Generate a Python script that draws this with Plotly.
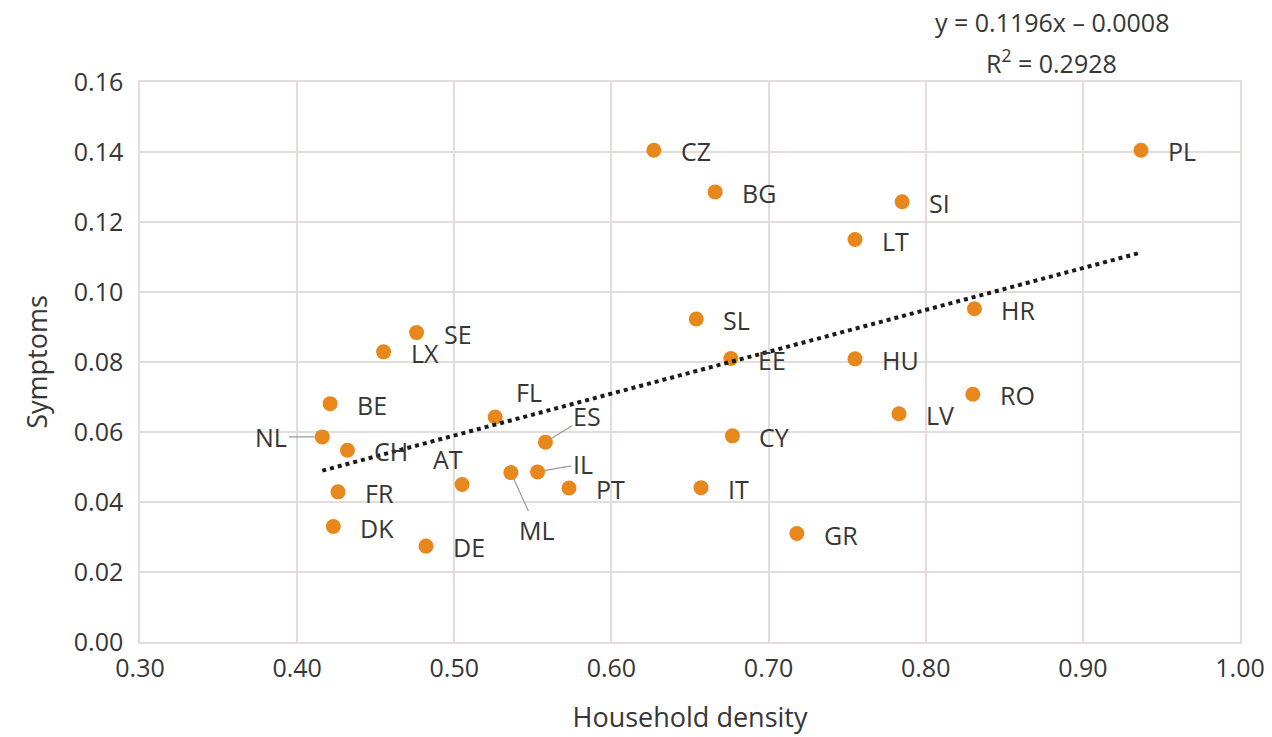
import plotly.graph_objects as go

# ---- data ----
countries = ["CZ", "BG", "SI", "LT", "PL", "HR", "SL", "EE", "HU", "RO", "LV", "CY", "IT", "GR",
             "SE", "LX", "BE", "NL", "CH", "FR", "DK", "DE", "AT", "FL", "ES", "ML", "IL", "PT"]
household_density = [0.627, 0.666, 0.785, 0.755, 0.937, 0.831, 0.654, 0.676, 0.755, 0.830, 0.783, 0.677, 0.657, 0.718,
                     0.476, 0.455, 0.421, 0.416, 0.432, 0.426, 0.423, 0.482, 0.505, 0.526, 0.558, 0.536, 0.553, 0.573]
symptoms = [0.1405, 0.1286, 0.1258, 0.1150, 0.1405, 0.0952, 0.0923, 0.0810, 0.0809, 0.0708, 0.0652, 0.0589, 0.0441, 0.0310,
            0.0884, 0.0829, 0.0681, 0.0586, 0.0548, 0.0429, 0.0330, 0.0274, 0.0450, 0.0643, 0.0571, 0.0484, 0.0486, 0.0440]

trend_slope = 0.1196
trend_intercept = -0.0008
r_squared = 0.2928

x_ticks = [0.30, 0.40, 0.50, 0.60, 0.70, 0.80, 0.90, 1.00]
y_ticks = [0.00, 0.02, 0.04, 0.06, 0.08, 0.10, 0.12, 0.14, 0.16]

# ---- styling ----
FONT = "Open Sans"
TEXT = "#363636"
GRID = "#e4dbdb"
ORANGE = "#e8871c"

# label placement (pixel offsets), default: text to the right of the dot
special = {
    # name: (mode, dx, dy)  dy positive = downward (screen)
    "NL": ("arrow", -51, 0),
    "ES": ("arrow", 42, -26),
    "IL": ("arrow", 45, -8),
    "ML": ("arrow", 26, 57),
    "AT": ("text", -14, -26),
    "FL": ("text", 34, -25),
}

fig = go.Figure()

fig.add_trace(go.Scatter(
    x=household_density, y=symptoms, mode="markers",
    marker=dict(size=15, color=ORANGE, line=dict(width=0)),
    hoverinfo="text", text=countries, showlegend=False,
))

x0, x1 = min(household_density), max(household_density)
fig.add_trace(go.Scatter(
    x=[x0, x1], y=[trend_slope * x0 + trend_intercept, trend_slope * x1 + trend_intercept],
    mode="lines", line=dict(color="#1a1a1a", width=4, dash="dot"),
    hoverinfo="skip", showlegend=False,
))

annotations = []
for name, xv, yv in zip(countries, household_density, symptoms):
    if name in special:
        mode, dx, dy = special[name]
        if mode == "arrow":
            annotations.append(dict(
                x=xv, y=yv, xref="x", yref="y", text=name, showarrow=True,
                ax=dx, ay=dy, arrowhead=0, arrowwidth=1.2, arrowcolor="#9a9a9a",
                standoff=7, font=dict(family=FONT, size=25, color=TEXT),
            ))
        else:
            annotations.append(dict(
                x=xv, y=yv, xref="x", yref="y", text=name, showarrow=False,
                xanchor="center", yanchor="middle", xshift=dx, yshift=-dy,
                font=dict(family=FONT, size=25, color=TEXT),
            ))
    else:
        annotations.append(dict(
            x=xv, y=yv, xref="x", yref="y", text=name, showarrow=False,
            xanchor="left", yanchor="middle", xshift=25, yshift=-1,
            font=dict(family=FONT, size=25, color=TEXT),
        ))

eq_line1 = f"y = {trend_slope:.4f}x \u2013 {abs(trend_intercept):.4f}"
eq_line2 = f"R<sup>2</sup> = {r_squared:.4f}"
annotations.append(dict(
    x=0.829, y=1.0, xref="paper", yref="paper", text=eq_line1, showarrow=False,
    xanchor="center", yanchor="middle", yshift=60,
    font=dict(family=FONT, size=25, color=TEXT),
))
annotations.append(dict(
    x=0.829, y=1.0, xref="paper", yref="paper", text=eq_line2, showarrow=False,
    xanchor="center", yanchor="middle", yshift=21,
    font=dict(family=FONT, size=25, color=TEXT),
))

fig.update_layout(
    width=1272, height=737,
    margin=dict(l=140, r=32, t=82, b=95),
    paper_bgcolor="white", plot_bgcolor="white",
    font=dict(family=FONT, color=TEXT),
    annotations=annotations,
    xaxis=dict(
        range=[0.30, 1.00], tickvals=x_ticks, tickformat=".2f",
        showgrid=True, gridcolor=GRID, gridwidth=1.5,
        showline=True, linecolor=GRID, linewidth=1.5, mirror=True,
        zeroline=False, ticks="", ticklabelstandoff=3, automargin=False,
        tickfont=dict(family=FONT, size=25, color=TEXT),
        title=dict(text="Household density", standoff=25,
                   font=dict(family=FONT, size=27, color=TEXT)),
    ),
    yaxis=dict(
        range=[0.0, 0.16], tickvals=y_ticks, tickformat=".2f",
        showgrid=True, gridcolor=GRID, gridwidth=1.5,
        showline=True, linecolor=GRID, linewidth=1.5, mirror=True,
        zeroline=False, ticks="", ticklabelstandoff=10, automargin=False,
        tickfont=dict(family=FONT, size=25, color=TEXT),
        title=dict(text="Symptoms", standoff=18,
                   font=dict(family=FONT, size=27, color=TEXT)),
    ),
)

fig.write_html("out.html", config={"displayModeBar": False})

# remove the default page margin so the 1272x737 figure fills the window exactly
with open("out.html", "r", encoding="utf-8") as f:
    html = f.read()
html = html.replace("<head>", "<head><style>html,body{margin:0;padding:0;overflow:hidden;}</style>", 1)
with open("out.html", "w", encoding="utf-8") as f:
    f.write(html)
